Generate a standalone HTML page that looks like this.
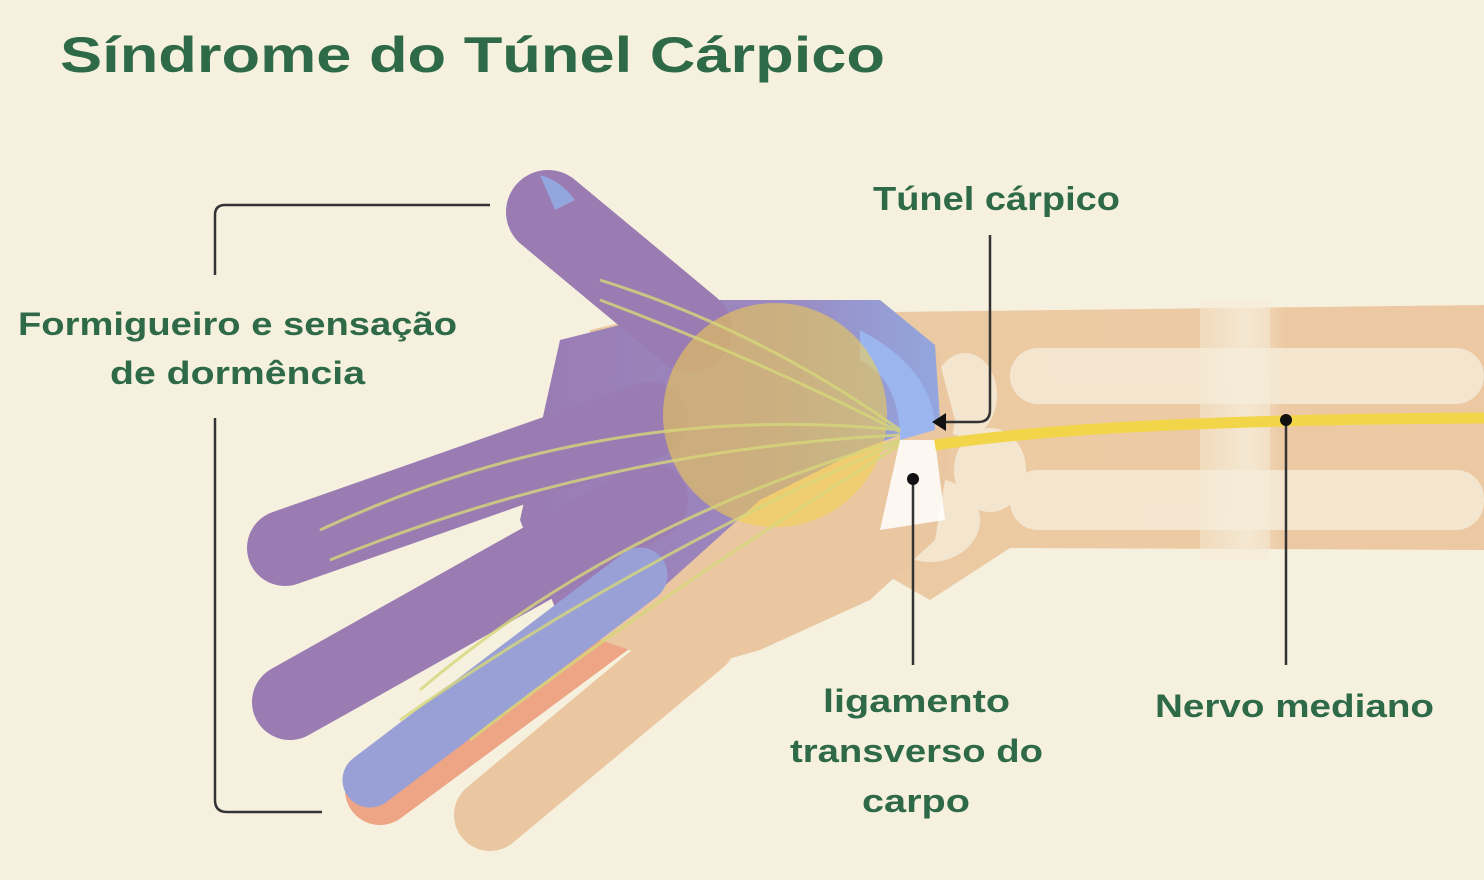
<!DOCTYPE html>
<html><head><meta charset="utf-8"><style>
html,body{margin:0;padding:0;background:#f6f1df;}
svg{display:block}
text{font-family:"Liberation Sans",sans-serif;font-weight:bold;fill:#2e6a47}
</style></head><body>
<svg width="1484" height="880" viewBox="0 0 1484 880">
<defs>
<linearGradient id="pg" x1="0" y1="0" x2="1" y2="0">
<stop offset="0" stop-color="#9a7bb2"/><stop offset="0.6" stop-color="#9b88c0"/><stop offset="1" stop-color="#93a6de"/></linearGradient>
<linearGradient id="fa" x1="0" y1="0" x2="1" y2="0">
<stop offset="0" stop-color="#ebc9a2"/><stop offset="0.55" stop-color="#eccaa3"/><stop offset="0.62" stop-color="#f3e3cb"/><stop offset="0.68" stop-color="#ecc9a2"/><stop offset="1" stop-color="#ecc9a2"/></linearGradient>
</defs>
<rect width="1484" height="880" fill="#f6f1df"/>
<text x="60" y="72" font-size="50" textLength="825" lengthAdjust="spacingAndGlyphs">Síndrome do Túnel Cárpico</text>

<!-- forearm -->
<path d="M890 312 L1484 305 L1484 550 L1010 548 L930 600 L860 560 Z" fill="url(#fa)"/>
<!-- bones -->
<g fill="#f7f1e1" opacity="0.7">
<rect x="1010" y="348" width="474" height="56" rx="28"/>
<rect x="1010" y="470" width="474" height="60" rx="28"/>
<ellipse cx="965" cy="395" rx="32" ry="42"/>
<ellipse cx="990" cy="470" rx="36" ry="42"/>
<ellipse cx="930" cy="520" rx="50" ry="42"/>
</g>
<rect x="1200" y="300" width="70" height="260" fill="#f6ecd8" opacity="0.5"/>

<!-- little finger & ring under -->
<g stroke-linecap="round" fill="none">
<line x1="490" y1="815" x2="700" y2="640" stroke="#eac7a0" stroke-width="72"/>
<line x1="380" y1="790" x2="650" y2="590" stroke="#eea585" stroke-width="70"/>
</g>
<path d="M590 330 L720 300 L880 300 L935 345 L955 420 L935 540 L870 600 L760 650 L690 670 L600 640 L575 520 Z" fill="#eac7a0"/>
<path d="M560 340 L720 300 L880 300 L935 345 L940 420 L860 450 L760 500 L660 590 L560 620 L520 520 Z" fill="url(#pg)"/>
<g stroke-linecap="round" fill="none">
<line x1="548" y1="212" x2="690" y2="330" stroke="#9a7bb2" stroke-width="84"/>
<line x1="285" y1="548" x2="650" y2="420" stroke="#9a7cb2" stroke-width="76"/>
<line x1="290" y1="702" x2="650" y2="500" stroke="#9a7cb2" stroke-width="76"/>
<line x1="370" y1="780" x2="640" y2="575" stroke="#98a0d6" stroke-width="55"/>
</g>
<path d="M540 175 Q560 180 575 200 L555 210 Z" fill="#93a6de"/>
<path d="M860 330 Q935 370 935 430 L900 440 Q900 380 860 360 Z" fill="#9bb5ee"/>
<circle cx="775" cy="415" r="112" fill="#f4cf4a" opacity="0.55"/>
<g stroke="#d6d77a" stroke-width="3" fill="none" opacity="0.8">
<path d="M320 530 Q600 400 900 430"/>
<path d="M330 560 Q600 450 900 435"/>
<path d="M420 690 Q620 520 900 440"/>
<path d="M400 720 Q630 560 900 442"/>
<path d="M470 740 Q650 600 900 445"/>
<path d="M600 280 Q760 330 900 430"/>
<path d="M600 300 Q760 360 900 432"/>
</g>
<path d="M900 440 L935 440 L945 520 L880 530 Z" fill="#ffffff" opacity="0.85"/>
<path d="M935 445 Q1100 420 1484 418" stroke="#f2d548" stroke-width="11" fill="none"/>

<g stroke="#333" stroke-width="2.5" fill="none">
<path d="M215 275 L215 215 Q215 205 225 205 L490 205"/>
<path d="M215 418 L215 800 Q215 812 227 812 L322 812"/>
<path d="M990 235 L990 410 Q990 422 978 422 L945 422"/>
<line x1="913" y1="478" x2="913" y2="665"/>
<line x1="1286" y1="420" x2="1286" y2="665"/>
</g>
<polygon points="932,422 946,413 946,431" fill="#111"/>
<circle cx="913" cy="479" r="6" fill="#111"/>
<circle cx="1286" cy="420" r="6" fill="#111"/>

<text x="873" y="210" font-size="33" textLength="247" lengthAdjust="spacingAndGlyphs">Túnel cárpico</text>
<text x="18" y="335" font-size="32" textLength="439" lengthAdjust="spacingAndGlyphs">Formigueiro e sensação</text>
<text x="110" y="384" font-size="32" textLength="255" lengthAdjust="spacingAndGlyphs">de dormência</text>
<text x="823" y="712" font-size="32" textLength="187" lengthAdjust="spacingAndGlyphs">ligamento</text>
<text x="790" y="762" font-size="32" textLength="253" lengthAdjust="spacingAndGlyphs">transverso do</text>
<text x="862" y="812" font-size="32" textLength="108" lengthAdjust="spacingAndGlyphs">carpo</text>
<text x="1155" y="717" font-size="32" textLength="279" lengthAdjust="spacingAndGlyphs">Nervo mediano</text>
</svg>
</body></html>
